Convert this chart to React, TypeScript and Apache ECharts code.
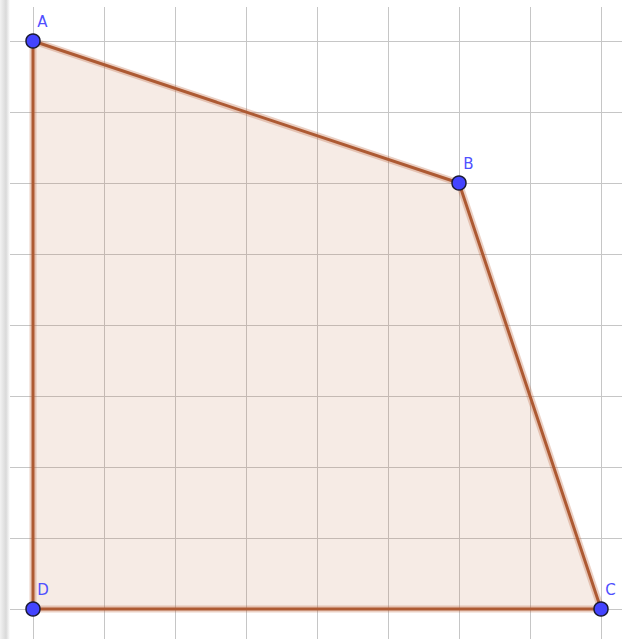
import React, { useEffect, useRef } from "react";
import * as echarts from "echarts";

const pointNames = ["A", "B", "C", "D"];
const pointX = [0, 6, 8, 0];
const pointY = [8, 6, 0, 0];
const axisMinX = -1;
const axisMaxX = 9;
const axisMinY = -1;
const axisMaxY = 9;

const OFF_X = 38;
const OFF_Y = 30;

export default function App() {
  const ref = useRef<HTMLDivElement>(null);
  useEffect(() => {
    if (!ref.current) return;
    const chart = echarts.init(ref.current, null, { renderer: "svg" });
    const verts = pointX.map((x, i) => [x, pointY[i]]);
    const axisCommon = {
      type: "value" as const,
      interval: 1,
      axisLine: { show: false },
      axisTick: { show: false },
      axisLabel: { show: false },
      splitLine: { show: true, lineStyle: { color: "#c6c6c6", width: 1 } },
    };
    chart.setOption({
      animation: false,
      backgroundColor: "#ffffff",
      grid: { left: 0, top: 0, right: 0, bottom: 0 },
      xAxis: { ...axisCommon, min: axisMinX, max: axisMaxX },
      yAxis: { ...axisCommon, min: axisMinY, max: axisMaxY },
      series: [
        {
          type: "custom",
          data: [0],
          silent: true,
          z: 3,
          renderItem: (params: any, api: any) => {
            const pts = verts.map((v) => api.coord(v));
            return {
              type: "group",
              children: [
                {
                  type: "polygon",
                  shape: { points: pts },
                  style: { fill: "rgba(180,90,40,0.12)", stroke: "rgba(190,100,60,0.3)", lineWidth: 7, lineJoin: "round" },
                },
                {
                  type: "polygon",
                  shape: { points: pts },
                  style: { fill: "none", stroke: "#ad5a33", lineWidth: 3, lineJoin: "round" },
                },
              ],
            };
          },
        },
        {
          type: "scatter",
          z: 5,
          symbol: "circle",
          symbolSize: 14,
          itemStyle: { color: "#4444ff", borderColor: "#1a1a33", borderWidth: 1.5, opacity: 1 },
          label: {
            show: true,
            formatter: (p: any) => p.name,
            position: [12, -19],
            color: "#5050ff",
            fontSize: 15,
            fontFamily: "DejaVu Sans, sans-serif",
          },
          data: pointNames.map((n, i) => ({ name: n, value: [pointX[i], pointY[i]] })),
        },
      ],
      graphic: [
        {
          type: "rect",
          z: 100,
          shape: { x: OFF_X, y: OFF_Y, width: 640, height: 7 },
          style: { fill: "#ffffff" },
        },
        {
          type: "rect",
          z: 101,
          shape: { x: OFF_X, y: OFF_Y, width: 10, height: 660 },
          style: {
            fill: new echarts.graphic.LinearGradient(0, 0, 1, 0, [
              { offset: 0, color: "#f2f2f2" },
              { offset: 0.6, color: "#d9d9d9" },
              { offset: 1, color: "#ffffff" },
            ]),
          },
        },
      ],
    });
    return () => chart.dispose();
  }, []);
  return (
    <div
      ref={ref}
      style={{ position: "fixed", left: -OFF_X, top: -OFF_Y, width: 710, height: 710 }}
    />
  );
}
